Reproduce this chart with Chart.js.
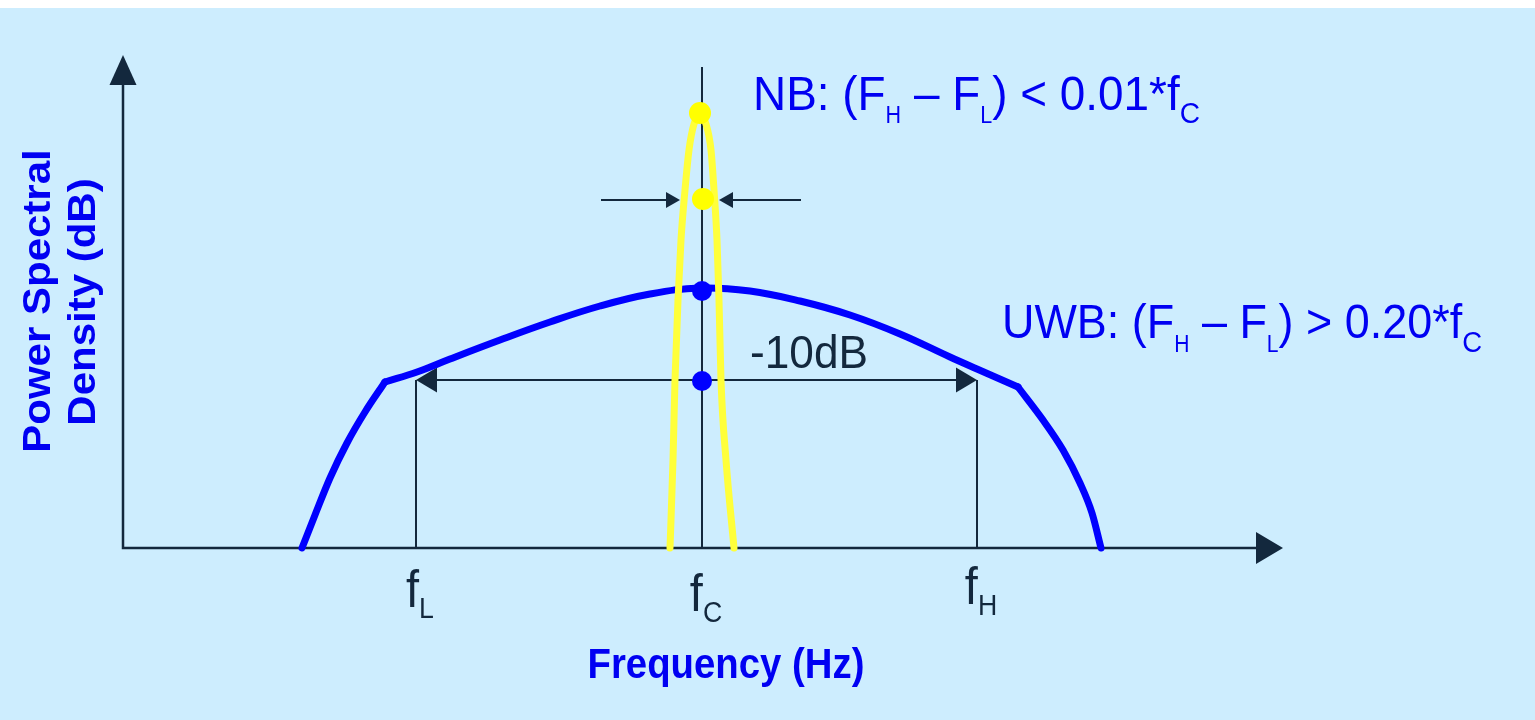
<!DOCTYPE html>
<html>
<head>
<meta charset="utf-8">
<script src="https://cdn.jsdelivr.net/npm/chart.js@4.4.1/dist/chart.umd.min.js"></script>
<style>
  body { margin: 0; background: #fff; }
  canvas { display: block; }
</style>
</head>
<body>
<canvas id="psd" width="1535" height="720"></canvas>
<script>
// UWB spectrum (blue), split in three parts so the two knees stay sharp
const uwbRiseX = [17.9, 19.2, 20.7, 22.4, 24.2, 26.2];
const uwbRiseY = [0, 3.3, 7.0, 10.5, 13.6, 16.6];
const uwbTopX = [26.2, 29.4, 32.7, 37.7, 42.7, 47.7, 52.7, 57.7, 62.7, 67.7, 72.7, 77.7, 82.7, 85.4, 89.5];
const uwbTopY = [16.6, 17.6, 18.9, 20.8, 22.6, 24.2, 25.4, 26.0, 25.7, 24.7, 23.3, 21.4, 19.1, 17.9, 16.1];
const uwbFallX = [89.5, 92.0, 94.0, 95.7, 96.9, 97.8];
const uwbFallY = [16.1, 12.8, 9.8, 6.5, 3.5, 0];

// NB spectrum (yellow)
const nbX = [54.7, 55.0, 55.2, 55.5, 55.8, 56.2, 56.6, 57.1, 57.7, 58.3, 58.8, 59.1, 59.4, 59.6, 59.8, 60.3, 61.1];
const nbY = [0, 8.8, 16.8, 24.8, 30.8, 35.8, 39.8, 42.4, 43.3, 42.4, 39.8, 35.8, 30.8, 24.8, 16.8, 8.8, 0];

// dots on the centre line
const nbDotX = [57.7, 58.0];
const nbDotY = [43.5, 34.9];
const uwbDotX = [57.9, 57.9];
const uwbDotY = [25.7, 16.7];

// frequency markers
const markerNames = ["L", "C", "H"];
const markerX = [29.3, 57.9, 85.4];
const bandLevel = 16.8;       // -10dB line
const centerTop = 48.1;       // top of the fC line
const nbLevel = 34.8;         // NB width arrows
const nbTail = [47.8, 67.8];
const nbTip = [55.7, 59.6];
const xAxisEnd = 116;
const yAxisEnd = 49.3;

const FONT = '"Liberation Sans", Arial, sans-serif';
const DARK = "#13283d";
const BLUE = "#0000f2";

function pts(xs, ys) {
  return xs.map((x, i) => ({ x: x, y: ys[i] }));
}

function drawHead(ctx, tx, ty, dx, dy, len, half) {
  // dx,dy = direction the arrow points to
  const bx = tx - dx * len, by = ty - dy * len;
  ctx.beginPath();
  ctx.moveTo(tx, ty);
  ctx.lineTo(bx - dy * half, by + dx * half);
  ctx.lineTo(bx + dy * half, by - dx * half);
  ctx.closePath();
  ctx.fill();
}

// text made of pieces (normal + subscripts), squeezed to a width
function drawRich(ctx, parts, x, y, width, color, align, weight) {
  weight = weight || "";
  let natural = 0;
  for (const p of parts) {
    ctx.font = weight + " " + p[1] + "px " + FONT;
    natural += ctx.measureText(p[0]).width;
  }
  const sx = width ? width / natural : 0.92;
  ctx.save();
  ctx.fillStyle = color;
  ctx.textBaseline = "alphabetic";
  ctx.textAlign = "left";
  ctx.translate(align === "center" ? x - natural * sx / 2 : x, y);
  ctx.scale(sx, 1);
  let cx = 0;
  for (const p of parts) {
    ctx.font = weight + " " + p[1] + "px " + FONT;
    ctx.fillText(p[0], cx, p[2]);
    cx += ctx.measureText(p[0]).width;
  }
  ctx.restore();
}

const backdrop = {
  id: "backdrop",
  beforeDraw(chart) {
    const ctx = chart.ctx;
    ctx.save();
    ctx.fillStyle = "#ffffff";
    ctx.fillRect(0, 0, chart.width, chart.height);
    ctx.fillStyle = "#cdedfe";
    ctx.fillRect(0, 8, chart.width, chart.height - 8);
    ctx.restore();
  }
};

const guides = {
  id: "guides",
  beforeDatasetsDraw(chart) {
    const ctx = chart.ctx;
    const px = v => chart.scales.x.getPixelForValue(v);
    const py = v => chart.scales.y.getPixelForValue(v);
    ctx.save();
    ctx.strokeStyle = DARK;
    ctx.fillStyle = DARK;

    // axes
    ctx.lineWidth = 2.5;
    ctx.beginPath();
    ctx.moveTo(px(0), py(yAxisEnd) + 20);
    ctx.lineTo(px(0), py(0));
    ctx.lineTo(px(xAxisEnd) - 20, py(0));
    ctx.stroke();
    drawHead(ctx, px(0), py(yAxisEnd), 0, -1, 30, 13.5);
    drawHead(ctx, px(xAxisEnd), py(0), 1, 0, 27, 16);

    // marker lines
    ctx.lineWidth = 2;
    ctx.beginPath();
    ctx.moveTo(px(markerX[0]), py(0));
    ctx.lineTo(px(markerX[0]), py(bandLevel));
    ctx.moveTo(px(markerX[2]), py(0));
    ctx.lineTo(px(markerX[2]), py(bandLevel));
    ctx.moveTo(px(markerX[1]), py(0));
    ctx.lineTo(px(markerX[1]), py(centerTop));
    // -10dB span
    ctx.moveTo(px(markerX[0]) + 10, py(bandLevel));
    ctx.lineTo(px(markerX[2]) - 10, py(bandLevel));
    // NB width arrows
    ctx.moveTo(px(nbTail[0]), py(nbLevel));
    ctx.lineTo(px(nbTip[0]) - 8, py(nbLevel));
    ctx.moveTo(px(nbTail[1]), py(nbLevel));
    ctx.lineTo(px(nbTip[1]) + 8, py(nbLevel));
    ctx.stroke();
    drawHead(ctx, px(markerX[0]), py(bandLevel), -1, 0, 21, 12.5);
    drawHead(ctx, px(markerX[2]), py(bandLevel), 1, 0, 21, 12.5);
    drawHead(ctx, px(nbTip[0]), py(nbLevel), 1, 0, 14, 8);
    drawHead(ctx, px(nbTip[1]), py(nbLevel), -1, 0, 14, 8);
    ctx.restore();
  },
  afterDatasetsDraw(chart) {
    const ctx = chart.ctx;
    const px = v => chart.scales.x.getPixelForValue(v);

    drawRich(ctx, [["NB: (F", 49, 0], ["H", 23, 13], [" \u2013 F", 49, 0], ["L", 23, 13], [") < 0.01*f", 49, 0], ["C", 30, 13]],
      753, 110, 447, BLUE, "left");
    drawRich(ctx, [["UWB: (F", 49, 0], ["H", 23, 14], [" \u2013 F", 49, 0], ["L", 23, 14], [") > 0.20*f", 49, 0], ["C", 30, 14]],
      1002, 338, 480, BLUE, "left");
    drawRich(ctx, [["-10dB", 46, 0]], 750, 368, 118, DARK, "left");

    const baselines = [607, 611, 604];
    markerNames.forEach((n, i) => {
      drawRich(ctx, [["f", 51, 0], [n, 29, 11]], px(markerX[i]) + 4, baselines[i], 0, DARK, "center");
    });

    drawRich(ctx, [["Frequency (Hz)", 42, 0]], 726, 678, 277, BLUE, "center", "bold");

    // y axis title, two rotated lines
    const lines = [["Power Spectral", 50, 301], ["Density (dB)", 95, 302]];
    for (const l of lines) {
      ctx.save();
      ctx.translate(l[1], l[2]);
      ctx.rotate(-Math.PI / 2);
      ctx.scale(1, 0.93);
      ctx.font = "bold 42px " + FONT;
      ctx.fillStyle = BLUE;
      ctx.textAlign = "center";
      ctx.textBaseline = "alphabetic";
      ctx.fillText(l[0], 0, 0);
      ctx.restore();
    }
  }
};

const curve = {
  showLine: true,
  pointRadius: 0,
  borderWidth: 7,
  cubicInterpolationMode: "monotone",
  borderCapStyle: "round",
  borderJoinStyle: "round",
  clip: false
};

new Chart(document.getElementById("psd"), {
  type: "scatter",
  data: {
    datasets: [
      Object.assign({ label: "UWB rise", data: pts(uwbRiseX, uwbRiseY), borderColor: "#0000ff", order: 4 }, curve),
      Object.assign({}, curve, {
        label: "UWB top",
        data: pts(uwbTopX, uwbTopY),
        borderColor: "#0000ff",
        order: 4,
        cubicInterpolationMode: "default",
        tension: 0.4
      }),
      Object.assign({ label: "UWB fall", data: pts(uwbFallX, uwbFallY), borderColor: "#0000ff", order: 4 }, curve),
      Object.assign({ label: "NB", data: pts(nbX, nbY), borderColor: "#ffff3a", order: 3 }, curve),
      {
        label: "UWB dots",
        data: pts(uwbDotX, uwbDotY),
        pointRadius: 10,
        backgroundColor: "#0000ff",
        borderWidth: 0,
        order: 2,
        clip: false
      },
      {
        label: "NB dots",
        data: pts(nbDotX, nbDotY),
        pointRadius: 11,
        backgroundColor: "#ffff00",
        borderWidth: 0,
        order: 1,
        clip: false
      }
    ]
  },
  options: {
    responsive: false,
    animation: false,
    events: [],
    layout: { padding: { left: 123, right: 252, top: 55, bottom: 172 } },
    plugins: {
      legend: { display: false },
      tooltip: { enabled: false }
    },
    scales: {
      x: { type: "linear", min: 0, max: xAxisEnd, display: false },
      y: { type: "linear", min: 0, max: yAxisEnd, display: false }
    }
  },
  plugins: [backdrop, guides]
});
</script>
</body>
</html>
